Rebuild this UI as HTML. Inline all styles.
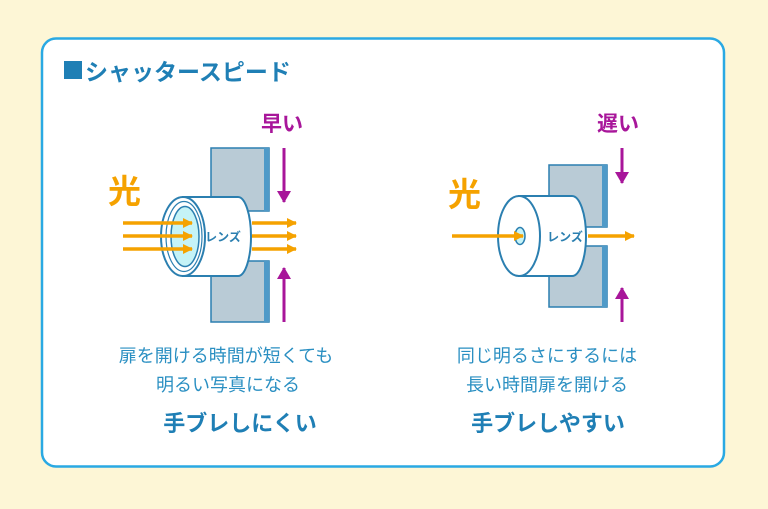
<!DOCTYPE html>
<html><head><meta charset="utf-8">
<style>
html,body{margin:0;padding:0;background:#fdf6d6;}
svg{display:block;}
text{font-family:"Liberation Sans","Noto Sans CJK JP",sans-serif;}
</style></head>
<body>
<svg width="768" height="509" viewBox="0 0 768 509" xmlns="http://www.w3.org/2000/svg">
<defs>
<marker id="oa" markerWidth="10" markerHeight="10" refX="9" refY="5" orient="auto" markerUnits="userSpaceOnUse"><path d="M0,0 L10,5 L0,10 Z" fill="#f5a200"/></marker>
<marker id="pa" markerWidth="12" markerHeight="14" refX="11" refY="7" orient="auto" markerUnits="userSpaceOnUse"><path d="M0,0 L12,7 L0,14 Z" fill="#a8169a"/></marker>
</defs>
<rect x="0" y="0" width="768" height="509" fill="#fdf6d6"/>
<rect x="42" y="38.5" width="682" height="428" rx="14" fill="#fff" stroke="#2aa9e3" stroke-width="2.5"/>
<rect x="64" y="61" width="18" height="18" fill="#1f7fb5"/>
<text x="85" y="80" font-size="23" font-weight="bold" fill="#1f7fb5">シャッタースピード</text>

<!-- LEFT -->
<rect x="211" y="148" width="58" height="63" fill="#b9cbd6" stroke="#2b7fb0" stroke-width="1.5"/>
<rect x="264" y="148" width="5" height="63" fill="#4f9ac8"/>
<rect x="211" y="261" width="58" height="61" fill="#b9cbd6" stroke="#2b7fb0" stroke-width="1.5"/>
<rect x="264" y="261" width="5" height="61" fill="#4f9ac8"/>
<path d="M183,197 L238,197 A13,39.5 0 0 1 238,276 L183,276 Z" fill="#fff" stroke="#2b7fb0" stroke-width="2"/>
<ellipse cx="183" cy="236.5" rx="22" ry="39.5" fill="#fff" stroke="#2b7fb0" stroke-width="2"/>
<ellipse cx="184" cy="236.5" rx="18" ry="35" fill="none" stroke="#2b7fb0" stroke-width="1.2"/>
<ellipse cx="185" cy="236.5" rx="14" ry="30" fill="#c5f3f7" stroke="#2b7fb0" stroke-width="1.5"/>
<text x="223" y="241" font-size="12" font-weight="bold" fill="#2b7fb0" text-anchor="middle">レンズ</text>
<g stroke="#f5a200" stroke-width="3.5" marker-end="url(#oa)">
<line x1="123" y1="223" x2="192" y2="223"/><line x1="123" y1="236" x2="192" y2="236"/><line x1="123" y1="249" x2="192" y2="249"/>
<line x1="252" y1="223" x2="296" y2="223"/><line x1="252" y1="236" x2="296" y2="236"/><line x1="252" y1="249" x2="296" y2="249"/>
</g>
<g stroke="#a8169a" stroke-width="3" marker-end="url(#pa)">
<line x1="284" y1="148" x2="284" y2="202"/><line x1="284" y1="322" x2="284" y2="268"/>
</g>
<text x="108" y="203" font-size="33" font-weight="bold" fill="#f5a200">光</text>
<text x="261" y="131" font-size="21" font-weight="bold" fill="#a8169a">早い</text>

<!-- RIGHT -->
<rect x="549" y="165" width="58" height="62" fill="#b9cbd6" stroke="#2b7fb0" stroke-width="1.5"/>
<rect x="602" y="165" width="5" height="62" fill="#4f9ac8"/>
<rect x="549" y="246" width="58" height="61" fill="#b9cbd6" stroke="#2b7fb0" stroke-width="1.5"/>
<rect x="602" y="246" width="5" height="61" fill="#4f9ac8"/>
<path d="M519,196 L572,196 A14,40 0 0 1 572,276 L519,276 Z" fill="#fff" stroke="#2b7fb0" stroke-width="2"/>
<ellipse cx="519" cy="236" rx="21" ry="40" fill="#fff" stroke="#2b7fb0" stroke-width="2"/>
<ellipse cx="520" cy="236" rx="5" ry="8.5" fill="#c5f3f7" stroke="#2b7fb0" stroke-width="1.5"/>
<text x="565" y="241" font-size="12" font-weight="bold" fill="#2b7fb0" text-anchor="middle">レンズ</text>
<g stroke="#f5a200" stroke-width="3.5" marker-end="url(#oa)">
<line x1="452" y1="236" x2="523" y2="236"/><line x1="588" y1="236" x2="634" y2="236"/>
</g>
<g stroke="#a8169a" stroke-width="3" marker-end="url(#pa)">
<line x1="622" y1="148" x2="622" y2="183"/><line x1="622" y1="322" x2="622" y2="288"/>
</g>
<text x="448" y="206" font-size="33" font-weight="bold" fill="#f5a200">光</text>
<text x="597" y="131" font-size="21" font-weight="bold" fill="#a8169a">遅い</text>

<!-- captions -->
<g fill="#2a8fc2" font-size="18" text-anchor="middle">
<text x="226" y="362">扉を開ける時間が短くても</text>
<text x="228" y="391">明るい写真になる</text>
<text x="547" y="362">同じ明るさにするには</text>
<text x="547" y="391">長い時間扉を開ける</text>
</g>
<g fill="#1f7fb5" font-size="22" font-weight="bold" text-anchor="middle">
<text x="240" y="431">手ブレしにくい</text>
<text x="548" y="431">手ブレしやすい</text>
</g>
</svg>
</body></html>
